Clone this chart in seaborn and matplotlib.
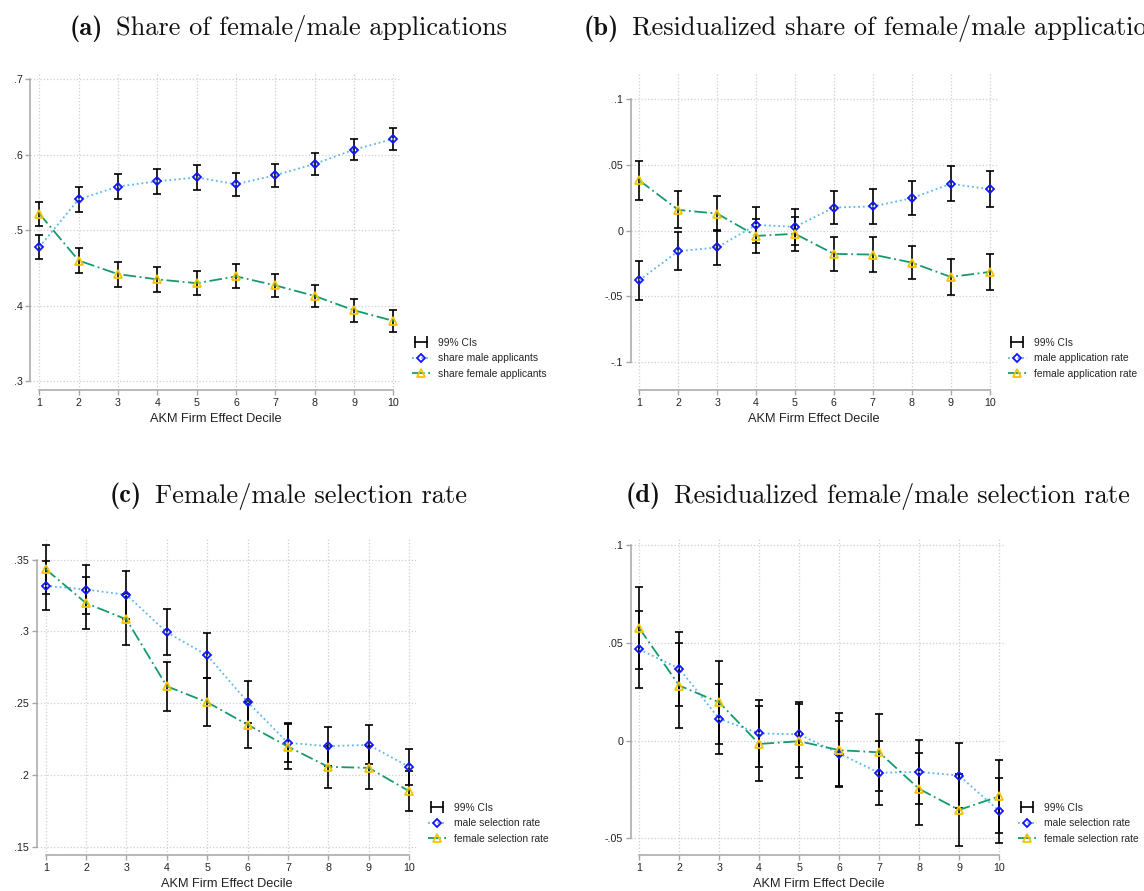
import matplotlib
matplotlib.use("Agg")
import matplotlib.pyplot as plt
from matplotlib.lines import Line2D
from matplotlib.legend_handler import HandlerLine2D
from matplotlib.ticker import FuncFormatter, FixedLocator
import pandas as pd
import seaborn as sns

# ---------- data ----------
deciles = [1, 2, 3, 4, 5, 6, 7, 8, 9, 10]

# (a) share of applications
share_male = [.478, .541, .558, .565, .570, .561, .573, .588, .607, .621]
share_male_ci = [.0163, .0163, .0165, .0163, .016, .0154, .015, .0148, .0143, .0141]
share_female = [.522, .460, .442, .435, .430, .439, .427, .413, .394, .380]
share_female_ci = [.0161, .0163, .0165, .0163, .0163, .0159, .015, .0148, .0148, .0143]

# (b) residualized application rates
app_male = [-.0378, -.0157, -.0129, .0043, .0028, .0175, .0183, .0246, .0355, .0315]
app_male_ci = [.0149, .0142, .0136, .0135, .0135, .0128, .013, .0127, .0133, .0135]
app_female = [.0381, .0157, .0129, -.0041, -.0025, -.0178, -.0183, -.0244, -.0353, -.0315]
app_female_ci = [.015, .014, .0135, .0132, .013, .013, .013, .0127, .0135, .0135]

# (c) selection rates
sel_male = [.3317, .3291, .3254, .2993, .2833, .2508, .2223, .2200, .2209, .2056]
sel_male_ci = [.017, .017, .0165, .016, .0155, .0146, .0135, .0135, .0135, .0125]
sel_female = [.3433, .3196, .3083, .2617, .2506, .2350, .2197, .2056, .2049, .1887]
sel_female_ci = [.017, .018, .018, .017, .0166, .016, .0154, .0145, .015, .0142]

# (d) residualized selection rates
res_male = [.0468, .0369, .0112, .0037, .0032, -.0066, -.0165, -.0160, -.0179, -.0359]
res_male_ci = [.0198, .019, .018, .0173, .0167, .0165, .0163, .0163, .0168, .0167]
res_female = [.0576, .0282, .0196, -.0017, -.0003, -.0049, -.0060, -.0247, -.0355, -.0286]
res_female_ci = [.021, .0218, .0213, .0192, .019, .0191, .0197, .0186, .0186, .0189]

titles = ["(a)", "(b)", "(c)", "(d)"]
title_text = ["Share of female/male applications",
              "Residualized share of female/male applications",
              "Female/male selection rate",
              "Residualized female/male selection rate"]
legend_labels = [["share male applicants", "share female applicants"],
                 ["male application rate", "female application rate"],
                 ["male selection rate", "female selection rate"],
                 ["male selection rate", "female selection rate"]]
yticks = [[.3, .4, .5, .6, .7],
          [-.1, -.05, 0, .05, .1],
          [.15, .2, .25, .3, .35],
          [-.05, 0, .05, .1]]
xlabel = "AKM Firm Effect Decile"

# ---------- style ----------
W, H = 1144, 891
sns.set_theme(style="ticks")
plt.rcParams["font.family"] = ["Liberation Sans", "DejaVu Sans"]

MALE_LINE = "#5ab8ea"
MALE_MARK = "#1414ff"
FEM_LINE = "#169a6c"
FEM_MARK = "#f4c400"
AXIS_GREY = "#a6a6a6"
MALE_LS = (0, (1, 1.6))
FEM_LS = (0, (7, 2, 1, 2))


def stata_fmt(v, pos=None):
    if abs(v) < 1e-12:
        return "0"
    return f"{v:g}".replace("0.", ".", 1)


fig = plt.figure(figsize=(W / 100, H / 100), dpi=100)


def panel(box, xlim, ylim, ticks, male, male_ci, female, female_ci, labels, leg_xy):
    left, right, top, bottom = box
    ax = fig.add_axes([left / W, 1 - bottom / H, (right - left) / W, (bottom - top) / H])
    ax.set_axisbelow(True)
    ax.grid(True, linestyle=":", color="#cfcfcf", linewidth=0.9)

    ax.errorbar(deciles, male, yerr=male_ci, fmt="none", ecolor="black",
                elinewidth=1.2, capsize=3, capthick=1.2, zorder=2)
    ax.errorbar(deciles, female, yerr=female_ci, fmt="none", ecolor="black",
                elinewidth=1.2, capsize=3, capthick=1.2, zorder=2)

    df = pd.DataFrame({"decile": deciles, "male": male, "female": female})
    sns.lineplot(data=df, x="decile", y="male", ax=ax, color=MALE_LINE,
                 linestyle=MALE_LS, linewidth=1.3, marker="D", markersize=4.2,
                 markerfacecolor="none", markeredgecolor=MALE_MARK,
                 markeredgewidth=1.3, errorbar=None, zorder=3)
    sns.lineplot(data=df, x="decile", y="female", ax=ax, color=FEM_LINE,
                 linestyle=FEM_LS, linewidth=1.3, marker="^", markersize=5.5,
                 markerfacecolor="none", markeredgecolor=FEM_MARK,
                 markeredgewidth=1.3, errorbar=None, zorder=3)

    ax.set_xlim(*xlim)
    ax.set_ylim(*ylim)
    ax.xaxis.set_major_locator(FixedLocator(deciles))
    ax.yaxis.set_major_locator(FixedLocator(ticks))
    ax.yaxis.set_major_formatter(FuncFormatter(stata_fmt))
    sns.despine(ax=ax, trim=True)
    for s in ("left", "bottom"):
        ax.spines[s].set_color(AXIS_GREY)
        ax.spines[s].set_linewidth(1.1)
    ax.tick_params(length=3.5, width=1, color=AXIS_GREY, labelsize=7.7,
                   labelcolor="#222222", pad=2)
    ax.set_xlabel(xlabel, fontsize=9.2, labelpad=4, color="#222222")
    ax.set_ylabel("")

    ci_h = Line2D([], [], color="black", lw=1.2, marker="|", markersize=9, mew=1.2)
    male_h = Line2D([], [], color=MALE_LINE, ls=MALE_LS, lw=1.3, marker="D",
                    ms=4.2, mfc="none", mec=MALE_MARK, mew=1.3)
    fem_h = Line2D([], [], color=FEM_LINE, ls=FEM_LS, lw=1.3, marker="^",
                   ms=5.5, mfc="none", mec=FEM_MARK, mew=1.3)
    ax.legend(handles=[ci_h, male_h, fem_h], labels=["99% CIs"] + labels,
              loc="center left", bbox_to_anchor=(leg_xy[0] / W, 1 - leg_xy[1] / H),
              bbox_transform=fig.transFigure, frameon=False, fontsize=7.4,
              handlelength=1.8, handletextpad=0.75, labelspacing=0.55,
              borderpad=0, borderaxespad=0,
              handler_map={ci_h: HandlerLine2D(numpoints=2)})
    return ax


# pixel boxes (left, right, top, bottom), limits, legend anchor
panel((30.3, 400.5, 71.7, 390), (0.771, 10.178), (.2885, .7101), yticks[0],
      share_male, share_male_ci, share_female, share_female_ci, legend_labels[0], (412, 358.3))
panel((630.7, 997, 71.7, 390), (0.779, 10.19), (-.1213, .1208), yticks[1],
      app_male, app_male_ci, app_female, app_female_ci, legend_labels[1], (1008, 358.3))
panel((36.7, 416, 536.7, 855), (0.777, 10.173), (.1442, .3659), yticks[2],
      sel_male, sel_male_ci, sel_female, sel_female_ci, legend_labels[2], (427.7, 823.3))
panel((630.7, 1006, 536.7, 855), (0.785, 10.175), (-.0586, .1045), yticks[3],
      res_male, res_male_ci, res_female, res_female_ci, legend_labels[3], (1018, 823.3))

# titles: bold tag in cmb10, text in cmr10, centred as one line
renderer = fig.canvas.get_renderer()
title_pos = [(288, 29), (878, 29), (288, 496), (878, 496)]
TITLE_SIZE = 19
GAP = 13
for (tx, ty), tag, txt in zip(title_pos, titles, title_text):
    t_tag = fig.text(0, 1 - ty / H, tag, fontfamily="cmb10", fontsize=TITLE_SIZE,
                     ha="left", va="center", color="#111111")
    t_txt = fig.text(0, 1 - ty / H, txt, fontfamily="cmr10", fontsize=TITLE_SIZE,
                     ha="left", va="center", color="#111111")
    w_tag = t_tag.get_window_extent(renderer).width
    w_txt = t_txt.get_window_extent(renderer).width
    x0 = tx - (w_tag + GAP + w_txt) / 2
    t_tag.set_x(x0 / W)
    t_txt.set_x((x0 + w_tag + GAP) / W)

fig.savefig("out.png", dpi=100)
